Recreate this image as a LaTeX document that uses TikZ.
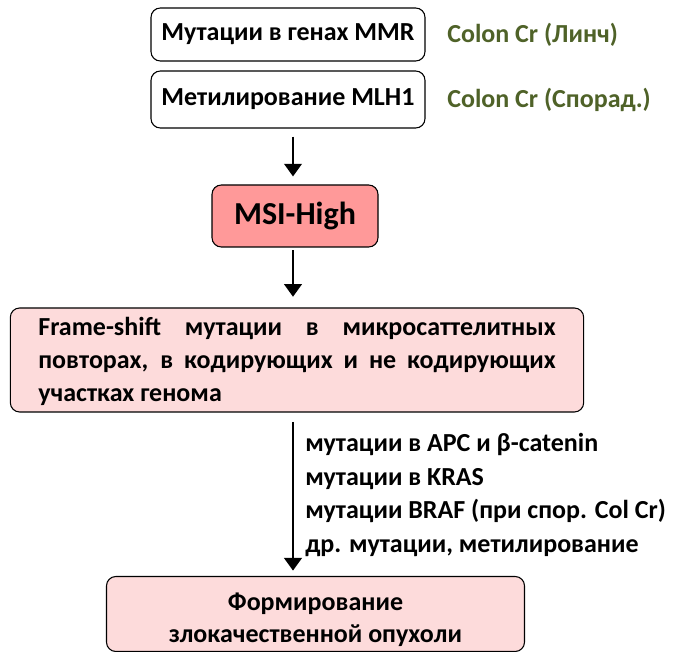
\documentclass[tikz,border=0pt]{standalone}
\usepackage{fontspec}
\setmainfont{Carlito}
\usetikzlibrary{arrows.meta}
\definecolor{msired}{RGB}{255,153,153}
\definecolor{palepink}{RGB}{253,219,219}
\definecolor{colongreen}{RGB}{79,98,40}

\begin{document}
\begin{tikzpicture}[x=0.75pt,y=-0.75pt,
    box/.style={rectangle,rounded corners=7pt,draw,line width=0.8pt,
      font=\bfseries\fontsize{19.5}{24.5}\selectfont},
    note/.style={font=\bfseries\fontsize{19.5}{25.2}\selectfont,inner sep=0pt},
    arr/.style={line width=2.2pt,-{Triangle[width=13pt,length=9.5pt]}}]
  \useasboundingbox (0,0) rectangle (687,652);
  \coordinate (axis) at (293,0);

  \path
  (288,34.5) node[box,minimum width=205.5pt,minimum height=39.75pt](mmr) {Мутации в генах MMR}
  (288,99.5) node[box,minimum width=205.5pt,minimum height=42.75pt](mlh) {Метилирование MLH1}
  (447,34.5) node[note,anchor=west,text=colongreen](lynch) {Colon Cr (Линч)}
  (447,99.5) node[note,anchor=west,text=colongreen](sporad) {Colon Cr (Спорад.)}
  (295,216) node[box,fill=msired,minimum width=124.5pt,minimum height=46.5pt,
                 font=\bfseries\fontsize{24}{28}\selectfont](msi) {MSI-High}
  (297,360) node[box,fill=palepink,minimum width=430pt,minimum height=78pt,
                 text width=388pt,align=justify](fs) {\rule{0pt}{16pt}Frame-shift мутации в микросаттелитных повторах, в кодирующих и не кодирующих участках генома}
  (315.5,614) node[box,fill=palepink,minimum width=313.5pt,minimum height=54pt,
                 align=center](tumor) {\rule{0pt}{22pt}Формирование\\злокачественной опухоли}
  (305,495) node[note,anchor=west,align=left](list) {мутации в APC и β-catenin\\мутации в KRAS\\мутации BRAF (при спор. Col Cr)\\др. мутации, метилирование};

  \draw[arr,shorten <=6pt,shorten >=6pt] (mlh.south -| axis) -- (msi.north -| axis);
  \draw[arr,shorten <=2pt,shorten >=8pt] (msi.south -| axis) -- (fs.north -| axis);
  \draw[arr,shorten <=7pt,shorten >=4pt] (fs.south -| axis) -- (tumor.north -| axis);
\end{tikzpicture}
\end{document}
